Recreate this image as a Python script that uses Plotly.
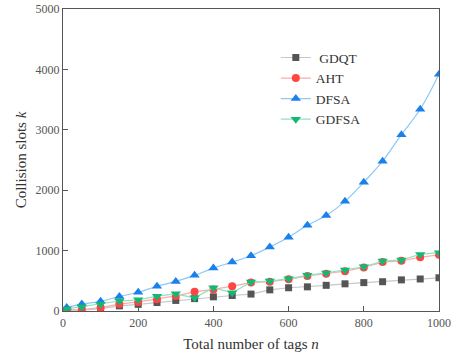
import plotly.graph_objects as go

tags_n = [10, 50, 100, 150, 200, 250, 300, 350, 400, 450, 500,
          550, 600, 650, 700, 750, 800, 850, 900, 950, 1000]
gdqt = [10, 15, 40, 85, 110, 140, 175, 205, 235, 257, 280,
        350, 385, 400, 425, 450, 470, 485, 515, 530, 550]
aht = [20, 25, 55, 115, 150, 195, 250, 318, 357, 411, 470,
       485, 525, 580, 615, 660, 720, 810, 830, 890, 930]
dfsa = [60, 115, 160, 240, 310, 410, 490, 590, 710, 810, 915,
        1060, 1220, 1420, 1580, 1815, 2130, 2480, 2920, 3340, 3920]
gdfsa = [35, 70, 110, 165, 185, 245, 285, 219, 385, 302, 480,
         495, 535, 590, 630, 677, 733, 826, 845, 937, 965]

series = [
    (" GDQT", gdqt, "#c8c8c8", "#555555", "square", 7, "linear"),
    ("AHT", aht, "#ffaaaa", "#ff4444", "circle", 8, "linear"),
    ("DFSA", dfsa, "#8cc8f4", "#1a80ec", "triangle-up", 9, "spline"),
    ("GDFSA", gdfsa, "#8ee4bc", "#12b873", "triangle-down", 9, "linear"),
]

fig = go.Figure()
for name, vals, lc, mc, sym, ms, shape in series:
    fig.add_trace(go.Scatter(
        x=tags_n, y=vals, name=name, mode="lines+markers",
        line=dict(color=lc, width=1.2, shape=shape),
        marker=dict(color=mc, symbol=sym, size=ms),
    ))

serif = "Liberation Serif, Times New Roman, serif"
fig.update_layout(
    width=456, height=355,
    margin=dict(l=63, r=17, t=9, b=44, autoexpand=False),
    paper_bgcolor="white", plot_bgcolor="white",
    font=dict(family=serif, color="#333333"),
    showlegend=True,
    legend=dict(x=0.566, y=0.89, xanchor="left", yanchor="top",
                itemwidth=30,
                bgcolor="rgba(0,0,0,0)", font=dict(size=13.5, color="#333333"),
                tracegroupgap=0),
)
fig.update_xaxes(
    range=[0, 1000], tickvals=[0, 200, 400, 600, 800, 1000],
    showline=True, linecolor="#555555", linewidth=1.2, mirror=True,
    ticks="inside", ticklen=5, tickcolor="#555555", showgrid=False, zeroline=False,
    tickfont=dict(size=12, color="#555555"),
    title=dict(text="Total number of tags <i>n</i>", font=dict(size=15, color="#333333"), standoff=9),
)
fig.update_yaxes(
    range=[0, 5000], tickvals=[0, 1000, 2000, 3000, 4000, 5000],
    showline=True, linecolor="#555555", linewidth=1.2, mirror=True,
    ticks="inside", ticklen=5, tickcolor="#555555", showgrid=False, zeroline=False,
    tickfont=dict(size=12, color="#555555"),
    title=dict(text="Collision slots <i>k</i>", font=dict(size=15, color="#333333"), standoff=5),
)
fig.write_html(
    "out.html",
    config={"displayModeBar": False},
    post_script="document.body.style.margin='0';document.body.style.overflow='hidden';",
)
